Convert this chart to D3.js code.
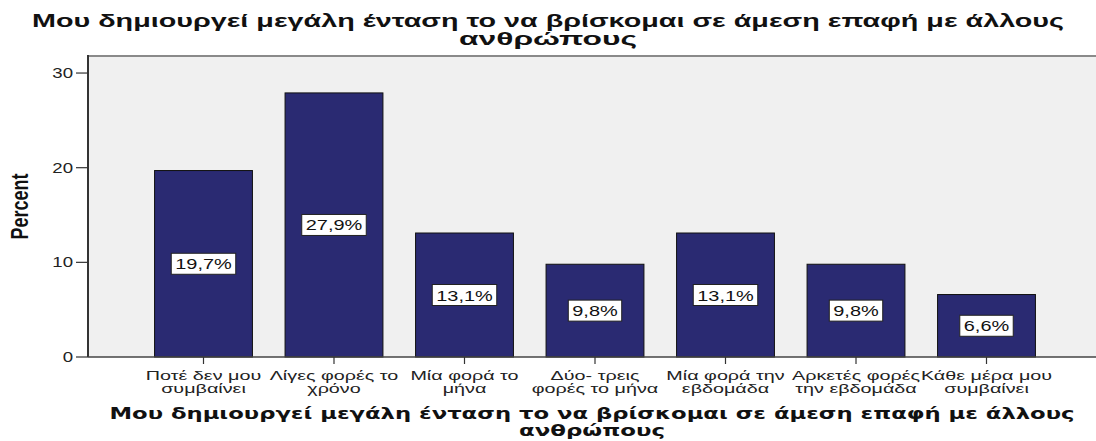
<!DOCTYPE html>
<html>
<head>
<meta charset="utf-8">
<script src="https://cdn.jsdelivr.net/npm/d3@7"></script>
<style>
  html, body { margin: 0; padding: 0; background: #ffffff; }
  svg { display: block; }
</style>
</head>
<body>
<svg id="chart" width="1096" height="441"></svg>
<script>
// Frequency of "Μου δημιουργεί μεγάλη ένταση..." answers, in percent
const categories = [
  ["Ποτέ δεν μου", "συμβαίνει"],
  ["Λίγες φορές το", "χρόνο"],
  ["Μία φορά το", "μήνα"],
  ["Δύο- τρεις", "φορές το μήνα"],
  ["Μία φορά την", "εβδομάδα"],
  ["Αρκετές φορές", "την εβδομάδα"],
  ["Κάθε μέρα μου", "συμβαίνει"]
];
const percents = [19.7, 27.9, 13.1, 9.8, 13.1, 9.8, 6.6];
const yTicks = [0, 10, 20, 30];
const titleLines = ["Μου δημιουργεί μεγάλη ένταση το να βρίσκομαι σε άμεση επαφή με άλλους", "ανθρώπους"];
const yAxisTitle = "Percent";

const W = 1096, H = 441;
const plot = { left: 88, top: 56, right: 1096, bottom: 357 };
const SX = 1.33;            // horizontal glyph stretch used throughout
const FONT = "'Liberation Sans', Arial, sans-serif";

const svg = d3.select("#chart");

const x = d3.scaleBand()
  .domain(d3.range(categories.length))
  .range([plot.left, plot.right + 6])
  .paddingInner(0.25)
  .paddingOuter(0.51);

const y = d3.scaleLinear()
  .domain([0, 31.8])
  .range([plot.bottom, plot.top]);

// stretched text helper
function stretchedText(g, txt, px, py, opts) {
  const t = g.append("text")
    .attr("transform", `translate(${px},${py}) scale(${opts.sx || SX},1)`)
    .attr("text-anchor", opts.anchor || "middle")
    .attr("font-family", opts.family || FONT)
    .attr("font-size", opts.size)
    .attr("font-weight", opts.weight || "normal")
    .attr("fill", opts.fill || "#111")
    .text(txt);
  return t;
}

// text stretched to a given overall width
function fittedText(g, txt, cx, py, width, opts) {
  return g.append("text")
    .attr("x", cx - width / 2).attr("y", py)
    .attr("text-anchor", "start")
    .attr("font-family", opts.family || FONT)
    .attr("font-size", opts.size)
    .attr("font-weight", opts.weight || "normal")
    .attr("fill", opts.fill || "#111")
    .attr("textLength", width)
    .attr("lengthAdjust", "spacingAndGlyphs")
    .text(txt);
}

// plot background
svg.append("rect")
  .attr("x", plot.left).attr("y", plot.top)
  .attr("width", plot.right - plot.left).attr("height", plot.bottom - plot.top)
  .attr("fill", "#f0f0f0");

// top frame line
svg.append("line")
  .attr("x1", plot.left).attr("x2", plot.right)
  .attr("y1", plot.top).attr("y2", plot.top)
  .attr("stroke", "#8a8a8a").attr("stroke-width", 2);

// bars
svg.append("g").selectAll("rect")
  .data(percents)
  .join("rect")
  .attr("x", (d, i) => x(i))
  .attr("y", d => y(d))
  .attr("width", x.bandwidth())
  .attr("height", d => y(0) - y(d))
  .attr("fill", "#2a2a72")
  .attr("stroke", "#111")
  .attr("stroke-width", 1);

// value labels in white boxes at mid-bar
const lbl = svg.append("g");
percents.forEach((d, i) => {
  const cx = x(i) + x.bandwidth() / 2;
  const cy = y(d / 2);
  const g = lbl.append("g");
  const box = g.append("rect");
  const t = stretchedText(g, d.toFixed(1).replace(".", ",") + "%", cx, cy + 5.5, { size: 15, fill: "#111" });
  const w = t.node().getComputedTextLength() * SX + 8;
  box.attr("x", cx - w / 2).attr("y", cy - 10.5)
    .attr("width", w).attr("height", 21)
    .attr("fill", "#ffffff").attr("stroke", "#222").attr("stroke-width", 1);
});

// y axis
const ya = svg.append("g");
ya.append("line")
  .attr("x1", plot.left).attr("x2", plot.left)
  .attr("y1", plot.top - 1).attr("y2", plot.bottom)
  .attr("stroke", "#333").attr("stroke-width", 2);
yTicks.forEach(v => {
  ya.append("line")
    .attr("x1", plot.left - 12).attr("x2", plot.left)
    .attr("y1", y(v)).attr("y2", y(v))
    .attr("stroke", "#333").attr("stroke-width", 1.2);
  stretchedText(ya, String(v), plot.left - 15, y(v) + 5, { size: 14, anchor: "end", fill: "#222" });
});

// x axis
const xa = svg.append("g");
xa.append("line")
  .attr("x1", plot.left).attr("x2", plot.right)
  .attr("y1", plot.bottom).attr("y2", plot.bottom)
  .attr("stroke", "#444").attr("stroke-width", 1.5);
categories.forEach((lines, i) => {
  const cx = x(i) + x.bandwidth() / 2;
  xa.append("line")
    .attr("x1", cx).attr("x2", cx)
    .attr("y1", plot.bottom).attr("y2", plot.bottom + 7)
    .attr("stroke", "#333").attr("stroke-width", 1.2);
  lines.forEach((ln, k) => {
    stretchedText(xa, ln, cx, 380 + k * 13, { size: 13, sx: 1.52, fill: "#222" });
  });
});

// y axis title
svg.append("text")
  .attr("transform", `translate(28,${(plot.top + plot.bottom) / 2}) rotate(-90) scale(1,${SX})`)
  .attr("text-anchor", "middle")
  .attr("font-family", FONT)
  .attr("font-size", 18)
  .attr("font-weight", "bold")
  .attr("fill", "#111")
  .text(yAxisTitle);

// chart title (top)
const topWidths = [1032, 178];
titleLines.forEach((ln, k) => {
  fittedText(svg, ln, W / 2, 27 + k * 18, topWidths[k], { size: 18, weight: "bold" });
});

// x axis title (bottom)
const midPlot = (plot.left + plot.right) / 2;
const bottomWidths = [965, 146];
titleLines.forEach((ln, k) => {
  fittedText(svg, ln, midPlot, 419 + k * 17, bottomWidths[k], { size: 16, weight: "bold", family: "'DejaVu Sans', Verdana, sans-serif" });
});
</script>
</body>
</html>
